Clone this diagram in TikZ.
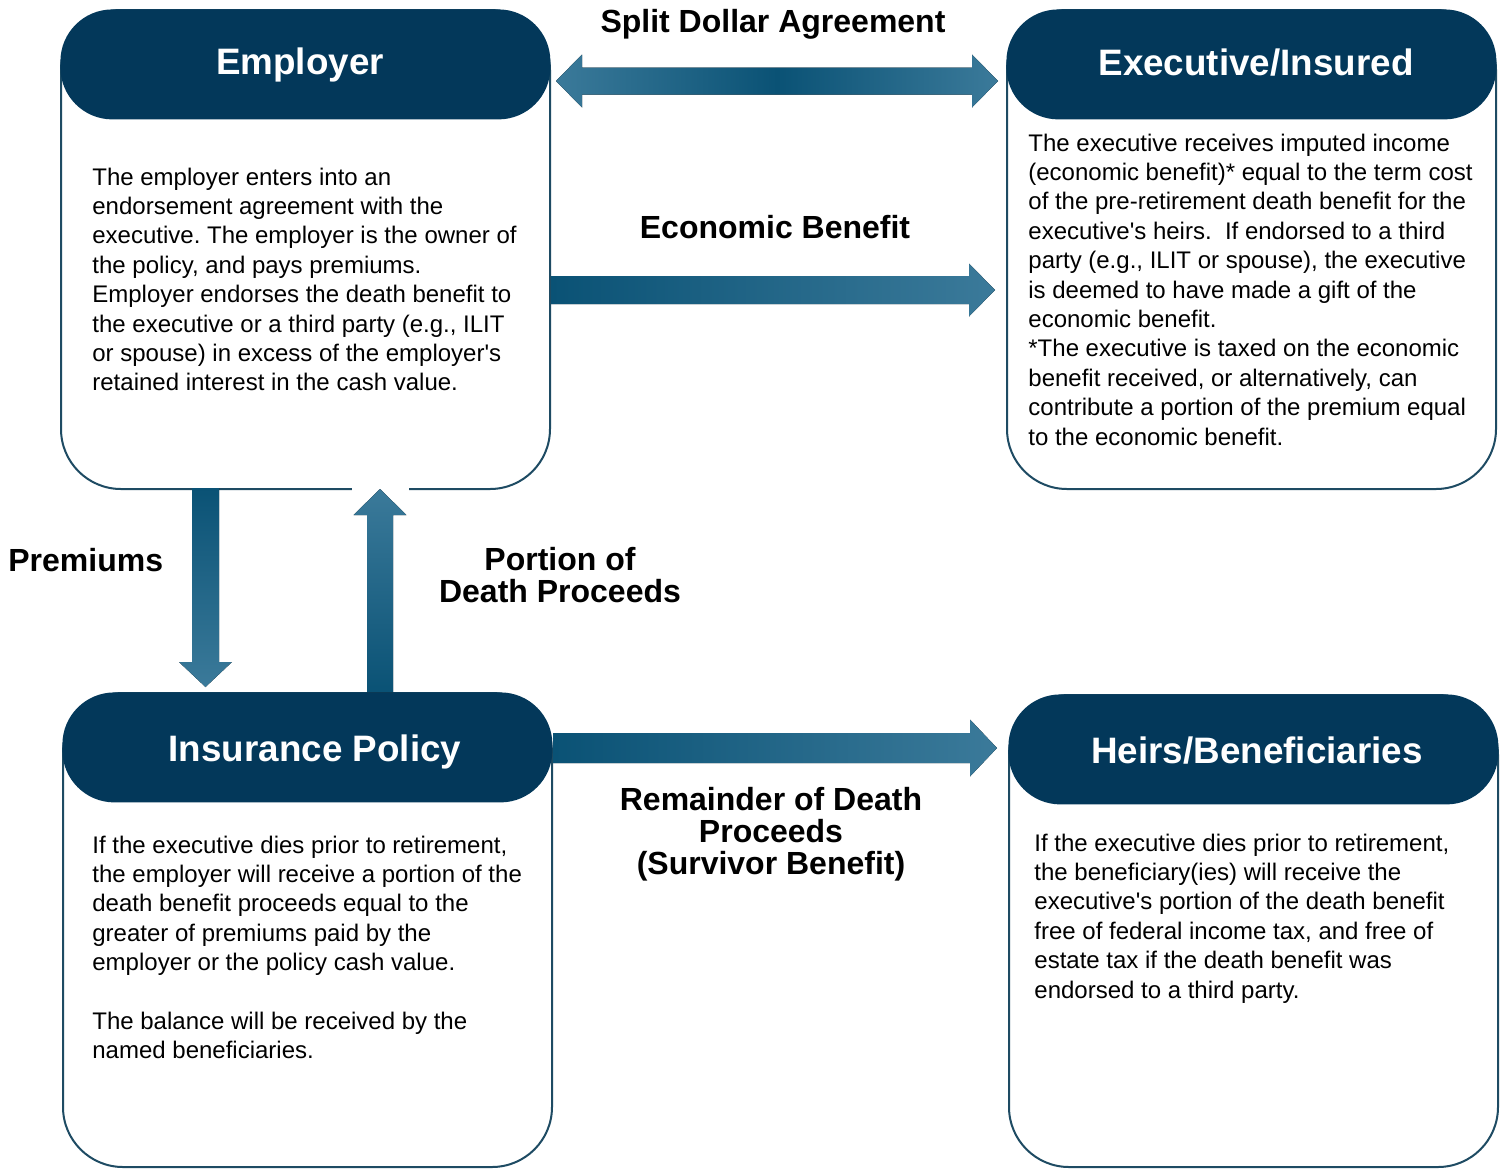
\documentclass[tikz,border=0pt]{standalone}
\usepackage{fontspec}
\setmainfont{Liberation Sans}
\usetikzlibrary{calc}
\definecolor{navy}{HTML}{03385A}
\definecolor{rim}{HTML}{1E4B63}
\definecolor{arrdark}{HTML}{0A5275}
\definecolor{arrlight}{HTML}{3B7A9A}
\newcommand\apos{\textquotesingle}
\begin{document}
\frenchspacing
\begin{tikzpicture}[x=0.5pt,y=-0.5pt,
  body/.style={draw=rim, line width=1pt, fill=white, rounded corners=30pt,
    anchor=north west, inner sep=0pt, minimum width=244.5pt},
  head/.style={fill=navy, rounded corners=26pt, anchor=north west,
    inner sep=0pt, minimum width=245pt, minimum height=55pt},
  title/.style={text=white, inner sep=0pt, anchor=base,
    font=\bfseries\fontsize{18.4}{22}\selectfont},
  copy/.style={anchor=base west, text width=240pt, align=flush left, inner sep=0pt,
    font=\fontsize{12}{14.7}\selectfont},
  flow/.style={anchor=base, text width=200pt, align=flush center, inner sep=0pt,
    font=\bfseries\fontsize{16}{16}\selectfont}]
\useasboundingbox (0,0) rectangle (1500,1168);

% ---- boxes: outlined body with a filled header band on top
\node[body, minimum height=239.5pt] (emp) at (60,9) {};
\node[head] (empH) at (60,9) {};
\node[title] (empT) at (300,74) {Employer};

\node[body, minimum height=239.5pt] (exe) at (1006,9) {};
\node[head] (exeH) at (1006,9) {};
\node[title] (exeT) at (1256,75) {Executive/Insured};

\node[body, minimum height=237pt] (pol) at (62,692) {};
\node[head] (polH) at (62,692) {};
\node[title] (polT) at (315,761) {Insurance Policy};

\node[body, minimum height=236pt] (hei) at (1008,694) {};
\node[head] (heiH) at (1008,694) {};
\node[title] (heiT) at (1257,763) {Heirs/Beneficiaries};

% ---- box texts
\node[copy] (empX) at (92,185) {The employer enters into an\\
endorsement agreement with the\\
executive. The employer is the owner of\\
the policy, and pays premiums.\\
Employer endorses the death benefit to\\
the executive or a third party (e.g., ILIT\\
or spouse) in excess of the employer\apos s\\
retained interest in the cash value.};

\node[copy] (exeX) at (1028,151) {The executive receives imputed income\\
(economic benefit)* equal to the term cost\\
of the pre-retirement death benefit for the\\
executive\apos s heirs.\ \ If endorsed to a third\\
party (e.g., ILIT or spouse), the executive\\
is deemed to have made a gift of the\\
economic benefit.\\
\relax *The executive is taxed on the economic\\
benefit received, or alternatively, can\\
contribute a portion of the premium equal\\
to the economic benefit.};

\node[copy] (polX) at (92,853) {If the executive dies prior to retirement,\\
the employer will receive a portion of the\\
death benefit proceeds equal to the\\
greater of premiums paid by the\\
employer or the policy cash value.\\[14.7pt]
The balance will be received by the\\
named beneficiaries.};

\node[copy] (heiX) at (1034,851) {If the executive dies prior to retirement,\\
the beneficiary(ies) will receive the\\
executive\apos s portion of the death benefit\\
free of federal income tax, and free of\\
estate tax if the death benefit was\\
endorsed to a third party.};

% ---- connectors
% split dollar agreement: two-headed, between the two upper boxes
\coordinate (sdL) at (556,81);
\coordinate (sdR) at (998,81);
\fill[left color=arrlight, right color=arrlight, middle color=arrdark]
  (sdL) -- ($(sdL)+(26,-26.5)$) -- ($(sdL)+(26,-13.5)$)
  -- ($(sdR)+(-26,-13.5)$) -- ($(sdR)+(-26,-26.5)$) -- (sdR)
  -- ($(sdR)+(-26,26.5)$) -- ($(sdR)+(-26,13.5)$)
  -- ($(sdL)+(26,13.5)$) -- ($(sdL)+(26,26.5)$) -- cycle;

% economic benefit: employer -> executive
\coordinate (ebS) at (emp.east |- 0,290);
\coordinate (ebT) at (995,290);
\fill[left color=arrdark, right color=arrlight]
  ($(ebS)+(0,-14)$) -- ($(ebT)+(-26,-14)$) -- ($(ebT)+(-26,-26.5)$) -- (ebT)
  -- ($(ebT)+(-26,26.5)$) -- ($(ebT)+(-26,14)$) -- ($(ebS)+(0,14)$) -- cycle;

% premiums: employer -> policy
\coordinate (prS) at (205.5,488);
\coordinate (prT) at (205.5,687);
\fill[top color=arrdark, bottom color=arrlight]
  ($(prS)+(-13.5,0)$) -- ($(prT)+(-13.5,-25)$) -- ($(prT)+(-26.5,-25)$) -- (prT)
  -- ($(prT)+(26.5,-25)$) -- ($(prT)+(13.5,-25)$) -- ($(prS)+(13.5,0)$) -- cycle;

% portion of death proceeds: policy -> employer
\coordinate (pdS) at (380,692);
\coordinate (pdT) at (380,489);
\fill[white] (352,485) rectangle (409,493);
\fill[top color=arrlight, bottom color=arrdark]
  ($(pdS)+(-13,0)$) -- ($(pdT)+(-13,26)$) -- ($(pdT)+(-26.5,26)$) -- (pdT)
  -- ($(pdT)+(26.5,26)$) -- ($(pdT)+(13,26)$) -- ($(pdS)+(13,0)$) -- cycle;

% remainder of death proceeds: policy -> heirs
\coordinate (rmS) at (pol.east |- 0,748);
\coordinate (rmT) at (997,748);
\fill[left color=arrdark, right color=arrlight]
  ($(rmS)+(0,-15)$) -- ($(rmT)+(-27,-15)$) -- ($(rmT)+(-27,-28.5)$) -- (rmT)
  -- ($(rmT)+(-27,28.5)$) -- ($(rmT)+(-27,15)$) -- ($(rmS)+(0,15)$) -- cycle;

% ---- connector labels
\node[flow] (lSD) at (773,32) {Split Dollar Agreement};
\node[flow] (lEB) at (775,238) {Economic Benefit};
\node[flow, anchor=base west, text width=100pt, align=flush left] (lPR) at (8,571) {Premiums};
\node[flow] (lPD) at (560,570) {Portion of\\Death Proceeds};
\node[flow] (lRM) at (771,810) {Remainder of Death\\Proceeds\\(Survivor Benefit)};
\end{tikzpicture}
\end{document}
